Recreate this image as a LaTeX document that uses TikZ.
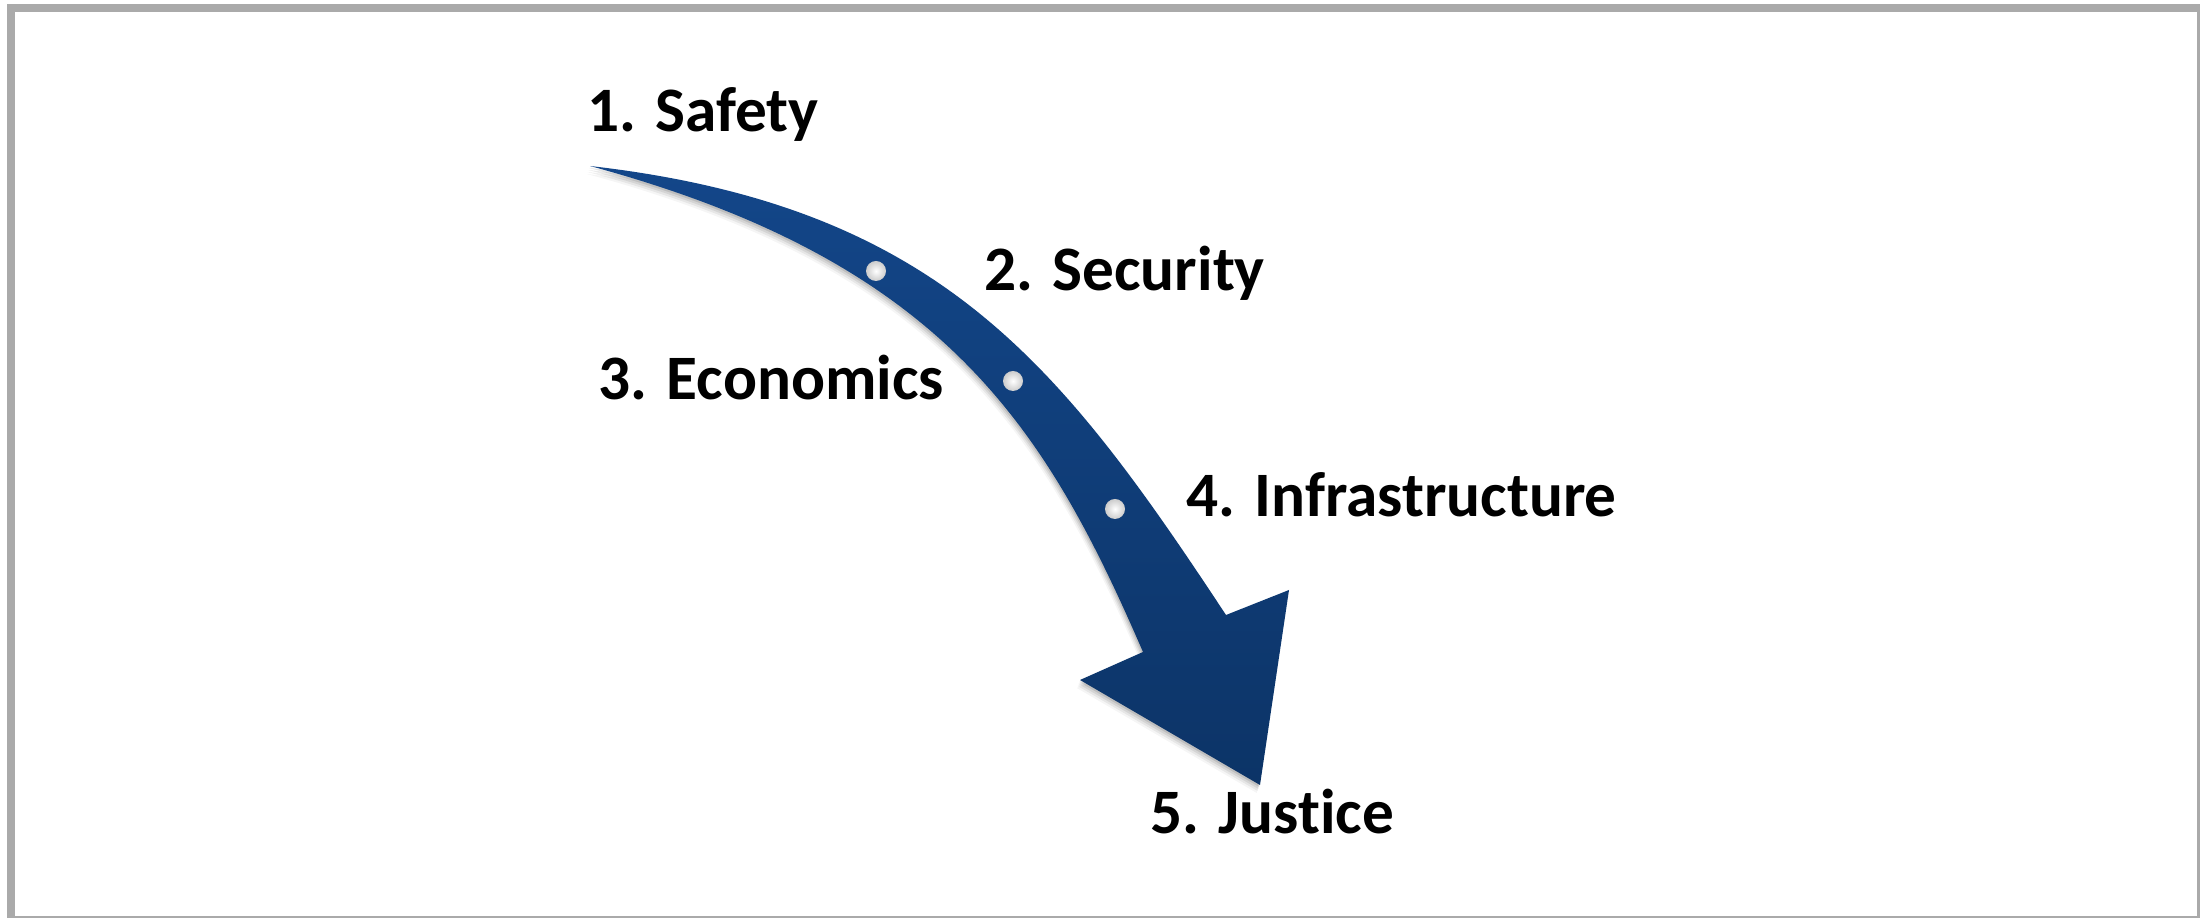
\documentclass[tikz,border=0pt]{standalone}
\usepackage{fontspec}
\setmainfont{Carlito}[Ligatures=NoCommon]
\definecolor{framegray}{HTML}{AAAAAA}
\definecolor{arrowtop}{HTML}{134689}
\definecolor{arrowbot}{HTML}{0C3467}
\def\arrowpath{(590,166) .. controls (940,206) and (1061,365) .. (1226,615)
  -- (1289,590) -- (1260,785) -- (1080,680) -- (1143,652)
  .. controls (1046,428) and (945,262) .. (590,166) -- cycle}
\begin{document}
\begin{tikzpicture}[x=0.01cm,y=-0.01cm,
  lbl/.style={anchor=base west, inner sep=0pt, font=\fontsize{18pt}{21pt}\selectfont\bfseries},
  dotnode/.style={circle, inner sep=0pt, minimum size=2mm, inner color=white, outer color=gray!40}]
\useasboundingbox (0,0) rectangle (2202,919);
% frame
\fill[framegray] (7,4) rectangle (2199.5,918.5);
\fill[white] (15,12.5) rectangle (2197,916);
% soft shadow of the arrow
\foreach \d/\o in {2/0.10,4/0.08,6/0.06,8/0.04}{
  \fill[black,opacity=\o,shift={(-0.4*\d,\d)}] \arrowpath;
}
% arrow
\shade[top color=arrowtop, bottom color=arrowbot] \arrowpath;
% dots
\node[dotnode] (d1) at (876,271) {};
\node[dotnode] (d2) at (1013,381) {};
\node[dotnode] (d3) at (1115,509) {};
% labels
\node[lbl] (t1) at (587,132) {1. Safety};
\node[lbl] (t2) at (984,291) {2. Security};
\node[lbl] (t3) at (598,400) {3. Economics};
\node[lbl] (t4) at (1186,517) {4. Infrastructure};
\node[lbl] (t5) at (1150,834) {5. Justice};
\end{tikzpicture}
\end{document}
